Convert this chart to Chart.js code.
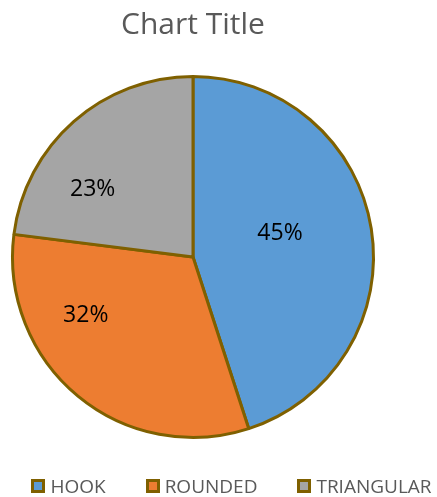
<!DOCTYPE html>
<html>
<head>
<meta charset="utf-8">
<script src="https://cdn.jsdelivr.net/npm/chart.js@4.4.0/dist/chart.umd.min.js"></script>
<style>
  html, body { margin: 0; padding: 0; background: #fff; }
  #wrap { position: relative; width: 437px; height: 497px; }
  #legend {
    position: absolute; left: 0; top: 476px; width: 437px; box-sizing: border-box;
    padding-left: 26px; display: flex; justify-content: center; gap: 40px;
    font-family: "Open Sans", sans-serif; font-size: 19px; line-height: 20px; color: #595959;
  }
  .item { display: flex; align-items: center; gap: 5px; }
  .box { width: 14px; height: 14px; box-sizing: border-box; border: 3px solid #7F6000; }
</style>
</head>
<body>
<div id="wrap">
  <canvas id="myChart"></canvas>
  <div id="legend"></div>
</div>
<script>
// data
const categories = ['HOOK', 'ROUNDED', 'TRIANGULAR'];
const shares = [45, 32, 23];
const sliceColors = ['#5B9BD5', '#ED7D31', '#A5A5A5'];

// where excel put each % label: fraction of radius, and turn (deg) off the mid angle
const labelRadius = [0.5, 0.676, 0.669];
const labelTurn = [-6.4, 21.9, -14.8];

const edge = '#7F6000';

// % labels on the slices
const pctLabels = {
    id: 'pctLabels',
    afterDatasetsDraw(chart) {
        const ctx = chart.ctx;
        const meta = chart.getDatasetMeta(0);
        const total = shares.reduce((a, b) => a + b, 0);
        ctx.save();
        ctx.font = '23px "Open Sans"';
        ctx.fillStyle = '#000';
        ctx.textAlign = 'center';
        ctx.textBaseline = 'middle';
        meta.data.forEach((arc, i) => {
            const p = arc.getProps(['x', 'y', 'startAngle', 'endAngle', 'outerRadius'], true);
            const mid = (p.startAngle + p.endAngle) / 2 + labelTurn[i] * Math.PI / 180;
            const r = p.outerRadius * labelRadius[i];
            const pct = Math.round(shares[i] / total * 100) + '%';
            ctx.fillText(pct, p.x + Math.cos(mid) * r, p.y + Math.sin(mid) * r);
        });
        ctx.restore();
    }
};

const myChart = new Chart(document.getElementById('myChart'), {
    type: 'pie',
    data: {
        labels: categories,
        datasets: [{
            data: shares,
            backgroundColor: sliceColors,
            borderColor: edge,
            borderWidth: 3
        }]
    },
    options: {
        responsive: true,
        maintainAspectRatio: false,
        animation: false,
        layout: { padding: { left: 11, right: 62, top: 0, bottom: 58 } },
        plugins: {
            title: {
                display: true,
                text: 'Chart Title',
                color: '#595959',
                font: { family: 'Open Sans', size: 30, weight: 'normal', lineHeight: 1.2 },
                padding: { top: 7, bottom: 32 }
            },
            legend: { display: false },
            tooltip: { enabled: false }
        }
    },
    plugins: [pctLabels]
});

// legend under the pie, as in the original
const legendBox = document.getElementById('legend');
categories.forEach((c, i) => {
    const item = document.createElement('div');
    item.className = 'item';
    const sw = document.createElement('span');
    sw.className = 'box';
    sw.style.background = sliceColors[i];
    const txt = document.createElement('span');
    txt.textContent = c;
    item.appendChild(sw);
    item.appendChild(txt);
    legendBox.appendChild(item);
});
</script>
</body>
</html>
